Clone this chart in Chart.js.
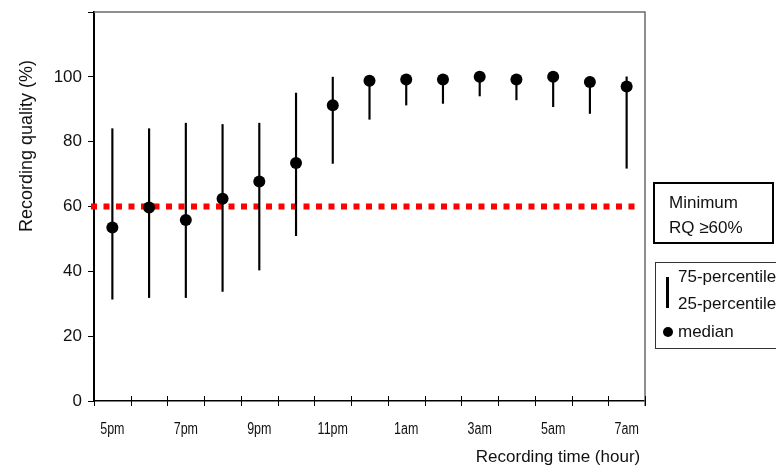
<!DOCTYPE html>
<html>
<head>
<meta charset="utf-8">
<script src="https://cdn.jsdelivr.net/npm/chart.js@4.4.1/dist/chart.umd.min.js"></script>
<style>
  html, body { margin: 0; padding: 0; background: #fff; }
  #wrap { width: 776px; height: 466px; }
</style>
</head>
<body>
<div id="wrap"><canvas id="qualityChart" width="776" height="466"></canvas></div>
<script>
// Recording quality per hour: median with 25/75 percentiles
const hours = ['5pm', '6pm', '7pm', '8pm', '9pm', '10pm', '11pm', '12am', '1am', '2am', '3am', '4am', '5am', '6am', '7am'];
const medians = [53.5, 59.7, 55.8, 62.4, 67.7, 73.4, 91.2, 98.8, 99.2, 99.2, 100, 99.2, 100, 98.4, 97];
const p25 = [31.4, 31.9, 31.9, 33.8, 40.4, 51, 73.3, 86.9, 91.3, 91.8, 94.1, 92.9, 90.8, 88.7, 71.8];
const p75 = [84, 84, 85.7, 85.3, 85.7, 95, 99.9, 99.5, 99.5, 99.5, 100, 99.5, 100, 100, 100];
const yTicks = [0, 20, 40, 60, 80, 100];
const threshold = 60;

const FONT = "'Liberation Sans', Arial, sans-serif";

// Function to draw the threshold line under the marks
const thresholdLine = {
    id: 'thresholdLine',
    beforeDatasetsDraw(chart) {
        const ctx = chart.ctx;
        const area = chart.chartArea;
        const y = chart.scales.y.getPixelForValue(threshold);
        ctx.save();
        ctx.strokeStyle = '#ff0000';
        ctx.lineWidth = 6;
        ctx.setLineDash([6, 6.5]);
        ctx.beginPath();
        ctx.moveTo(area.left - 3, y);
        ctx.lineTo(area.right - 4, y);
        ctx.stroke();
        ctx.restore();
    }
};

// Function to draw frame, x ticks, labels, titles and legend boxes
const decorations = {
    id: 'decorations',
    afterDraw(chart) {
        const ctx = chart.ctx;
        const area = chart.chartArea;
        const xs = chart.scales.x;
        ctx.save();

        // top and right frame
        ctx.strokeStyle = '#6b6b6b';
        ctx.lineWidth = 1.5;
        ctx.beginPath();
        ctx.moveTo(area.left, area.top);
        ctx.lineTo(area.right, area.top);
        ctx.lineTo(area.right, area.bottom + 5);
        ctx.stroke();

        // x tick marks crossing the axis, at category borders
        ctx.strokeStyle = '#000';
        ctx.lineWidth = 1;
        const step = xs.width / hours.length;
        for (let i = 0; i <= hours.length; i++) {
            const px = Math.round(xs.left + i * step) + 0.5;
            ctx.beginPath();
            ctx.moveTo(px, area.bottom - 5);
            ctx.lineTo(px, area.bottom + 5);
            ctx.stroke();
        }

        ctx.fillStyle = '#111';
        ctx.textBaseline = 'middle';

        // narrow x labels, every second hour
        ctx.font = '16px ' + FONT;
        ctx.textAlign = 'center';
        hours.forEach((h, i) => {
            if (i % 2 !== 0) return;
            const px = xs.getPixelForValue(i);
            ctx.save();
            ctx.translate(px, area.bottom + 29);
            ctx.scale(0.78, 1);
            ctx.fillText(h, 0, 0);
            ctx.restore();
        });

        // axis titles
        ctx.font = '17px ' + FONT;
        ctx.fillText('Recording time (hour)', 558, 457);
        ctx.save();
        ctx.translate(27, 146);
        ctx.rotate(-Math.PI / 2);
        ctx.font = '18px ' + FONT;
        ctx.fillText('Recording quality (%)', 0, 0);
        ctx.restore();

        // threshold box
        ctx.strokeStyle = '#000';
        ctx.lineWidth = 2;
        ctx.strokeRect(654, 183, 119, 60);
        ctx.textAlign = 'left';
        ctx.font = '17px ' + FONT;
        ctx.fillText('Minimum', 669, 203);
        ctx.fillText('RQ \u226560%', 669, 228);

        // percentile legend box
        ctx.strokeStyle = '#333';
        ctx.lineWidth = 1;
        ctx.strokeRect(655.5, 262.5, 140, 86);
        ctx.fillStyle = '#000';
        ctx.fillRect(666, 277, 3, 31);
        ctx.beginPath();
        ctx.arc(668, 332, 5, 0, Math.PI * 2);
        ctx.fill();
        ctx.fillStyle = '#111';
        ctx.fillText('75-percentile', 678, 277);
        ctx.fillText('25-percentile', 678, 304);
        ctx.fillText('median', 678, 332);

        ctx.restore();
    }
};

// Function to initialize quality chart
function initQualityChart() {
    const ctx = document.getElementById('qualityChart').getContext('2d');
    return new Chart(ctx, {
        type: 'bar',
        data: {
            labels: hours,
            datasets: [{
                type: 'line',
                label: 'median',
                data: medians,
                showLine: false,
                pointRadius: 6,
                pointBackgroundColor: '#000',
                pointBorderColor: '#000',
                pointBorderWidth: 0,
                order: 0
            }, {
                type: 'bar',
                label: '25-75 percentile',
                data: p25.map((v, i) => [v, p75[i]]),
                backgroundColor: '#000',
                barThickness: 1.5,
                order: 1
            }]
        },
        options: {
            responsive: false,
            animation: false,
            devicePixelRatio: 1,
            layout: {
                padding: { left: 0, top: 12, right: 131, bottom: 0 }
            },
            scales: {
                x: {
                    offset: true,
                    grid: { display: false },
                    border: { display: true, color: '#000', width: 1.5 },
                    afterFit(scale) { scale.height = 65; },
                    ticks: { display: false }
                },
                y: {
                    min: 0,
                    max: 120,
                    grid: {
                        drawOnChartArea: false,
                        drawTicks: true,
                        tickLength: 6,
                        color: '#000'
                    },
                    border: { display: true, color: '#000', width: 2 },
                    afterFit(scale) {
                        scale.width = 94;
                        scale.paddingTop = 0;
                        scale.paddingBottom = 0;
                    },
                    ticks: {
                        stepSize: 20,
                        padding: 6,
                        color: '#111',
                        font: { family: FONT, size: 17 },
                        callback: v => (yTicks.includes(v) ? v : '')
                    }
                }
            },
            plugins: {
                legend: { display: false },
                tooltip: { enabled: false }
            }
        },
        plugins: [thresholdLine, decorations]
    });
}

initQualityChart();
</script>
</body>
</html>
